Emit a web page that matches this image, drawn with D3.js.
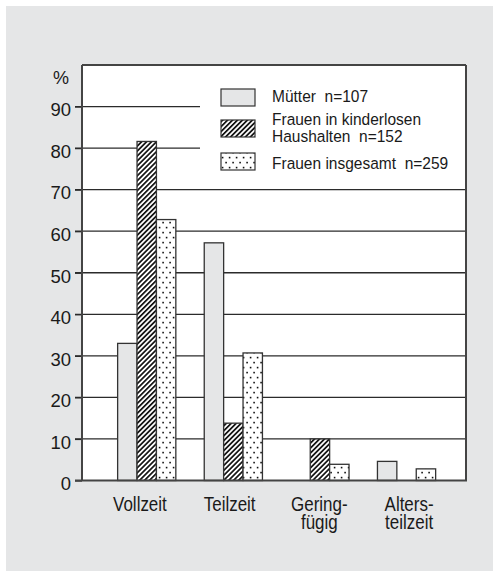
<!DOCTYPE html>
<html>
<head>
<meta charset="utf-8">
<script src="https://cdn.jsdelivr.net/npm/d3@7"></script>
<style>
  html, body { margin: 0; padding: 0; background: #ffffff; }
  svg { display: block; }
  text { white-space: pre; }
</style>
</head>
<body>
<svg id="chart" width="497" height="576"></svg>
<script>
// ---- data ----
const categories = ["Vollzeit", "Teilzeit", "Geringfügig", "Altersteilzeit"];
const categoryLabels = [["Vollzeit"], ["Teilzeit"], ["Gering-", "fügig"], ["Alters-", "teilzeit"]];
const seriesNames = ["Mütter", "Frauen in kinderlosen Haushalten", "Frauen insgesamt"];
const legendLabels = [["Mütter  n=107"], ["Frauen in kinderlosen", "Haushalten  n=152"], ["Frauen insgesamt  n=259"]];
const muetter = [33.0, 57.2, 0, 4.6];
const kinderlos = [81.6, 13.8, 10.0, 0];
const insgesamt = [62.8, 30.7, 3.9, 2.8];
const yTicks = [0, 10, 20, 30, 40, 50, 60, 70, 80, 90];
const yUnit = "%";

const seriesValues = [muetter, kinderlos, insgesamt];

// ---- layout ----
const svg = d3.select("#chart");
const plot = { left: 82, right: 466, top: 65, bottom: 480.5 };
const regular = "'Liberation Sans', Arial, Helvetica, sans-serif";
const ink = "#2b2b2b";

svg.append("rect").attr("x", 0).attr("y", 0).attr("width", 497).attr("height", 576).attr("fill", "#ffffff");
svg.append("rect").attr("x", 6).attr("y", 6).attr("width", 487).attr("height", 565).attr("fill", "#e5e6e7");

// patterns
const defs = svg.append("defs");
const hatch = defs.append("pattern").attr("id", "hatch")
  .attr("patternUnits", "userSpaceOnUse").attr("width", 3.5).attr("height", 10)
  .attr("patternTransform", "rotate(45)");
hatch.append("rect").attr("width", 3.5).attr("height", 10).attr("fill", "#ffffff");
hatch.append("rect").attr("x", 0).attr("width", 1.7).attr("height", 10).attr("fill", "#111");

const dots = defs.append("pattern").attr("id", "dots")
  .attr("patternUnits", "userSpaceOnUse").attr("width", 7).attr("height", 10);
dots.append("rect").attr("width", 7).attr("height", 10).attr("fill", "#ffffff");
dots.append("rect").attr("x", 1.3).attr("y", 1.8).attr("width", 1.6).attr("height", 1.6).attr("fill", "#111");
dots.append("rect").attr("x", 4.8).attr("y", 6.8).attr("width", 1.6).attr("height", 1.6).attr("fill", "#111");

const fills = ["#e5e6e7", "url(#hatch)", "url(#dots)"];

// plot background
svg.append("rect").attr("x", plot.left).attr("y", plot.top)
  .attr("width", plot.right - plot.left).attr("height", plot.bottom - plot.top)
  .attr("fill", "#ffffff");

// scales
const y = d3.scaleLinear().domain([0, 100]).range([plot.bottom, plot.top]);
const x0 = d3.scaleBand().domain(categories).range([plot.left, plot.right])
  .paddingInner(0.328).paddingOuter(0.381).align(0.54);
const x1 = d3.scaleBand().domain(seriesNames).range([0, x0.bandwidth()]).padding(0);
const xLabel = d3.scalePoint().domain(categories).range([plot.left, plot.right]).padding(0.64);

// gridlines
svg.append("g").selectAll("line").data(yTicks.filter(d => d > 0)).join("line")
  .attr("x1", plot.left - 7).attr("x2", plot.right)
  .attr("y1", d => y(d)).attr("y2", d => y(d))
  .attr("stroke", ink).attr("stroke-width", 1.3);

// legend area (white, hides gridlines behind)
svg.append("rect").attr("x", 200).attr("y", plot.top).attr("width", plot.right - 200).attr("height", 115)
  .attr("fill", "#ffffff");

// bars
const barData = [];
categories.forEach((c, i) => {
  seriesNames.forEach((s, j) => {
    const v = seriesValues[j][i];
    if (v > 0) barData.push({ c, s, v, j });
  });
});
svg.append("g").selectAll("rect").data(barData).join("rect")
  .attr("x", d => x0(d.c) + x1(d.s))
  .attr("y", d => y(d.v))
  .attr("width", x1.bandwidth())
  .attr("height", d => y(0) - y(d.v))
  .attr("fill", d => fills[d.j])
  .attr("stroke", "#333").attr("stroke-width", 1.3);

// y axis
const yAxis = d3.axisLeft(y).tickValues(yTicks).tickSize(7).tickPadding(4).tickFormat(d3.format("d"));
const gy = svg.append("g").attr("transform", `translate(${plot.left},0)`).call(yAxis);
gy.select(".domain").remove();
gy.selectAll(".tick line").attr("stroke", ink).attr("stroke-width", 1.3);
gy.selectAll(".tick text").attr("font-family", regular).attr("font-size", 18.5).attr("fill", "#1a1a1a")
  .attr("dy", "0.5em");

svg.append("text").attr("x", 69).attr("y", 84).attr("text-anchor", "end")
  .attr("font-family", regular).attr("font-size", 18).attr("fill", "#1a1a1a").text(yUnit);

// frame
svg.append("line").attr("x1", plot.left).attr("x2", plot.right).attr("y1", plot.top).attr("y2", plot.top)
  .attr("stroke", "#444").attr("stroke-width", 2);
svg.append("line").attr("x1", plot.right).attr("x2", plot.right).attr("y1", plot.top).attr("y2", plot.bottom)
  .attr("stroke", "#444").attr("stroke-width", 2);
svg.append("line").attr("x1", plot.left).attr("x2", plot.left).attr("y1", plot.top).attr("y2", plot.bottom)
  .attr("stroke", "#444").attr("stroke-width", 2);

// x axis (labels)
const xAxis = d3.axisBottom(xLabel).tickSize(0).tickFormat("");
const gx = svg.append("g").attr("transform", `translate(0,${plot.bottom})`).call(xAxis);
gx.select(".domain").attr("stroke", "#444").attr("stroke-width", 2)
  .attr("d", `M${plot.left - 7},0H${plot.right + 1}`);
gx.selectAll(".tick").each(function(d, i) {
  const t = d3.select(this).append("text")
    .attr("transform", "scale(0.87,1)")
    .attr("font-family", regular).attr("font-size", 19.5).attr("fill", "#1a1a1a")
    .attr("text-anchor", "middle");
  categoryLabels[i].forEach((line, k) => {
    t.append("tspan").attr("x", 0).attr("y", 31 + k * 17.5).text(line);
  });
});

// legend
const legendRows = [89, 120, 153];
const lg = svg.append("g");
legendRows.forEach((ry, j) => {
  lg.append("rect").attr("x", 221).attr("y", ry).attr("width", 34).attr("height", 17)
    .attr("fill", fills[j]).attr("stroke", "#333").attr("stroke-width", 1.2);
});
const legendBaselines = [[102], [125.3, 142.3], [168.7]];
legendLabels.forEach((lines, j) => {
  const t = lg.append("text")
    .attr("transform", "translate(272,0) scale(0.94,1)")
    .attr("font-family", regular).attr("font-size", 16.5).attr("fill", "#1a1a1a");
  lines.forEach((line, k) => {
    t.append("tspan").attr("x", 0).attr("y", legendBaselines[j][k]).text(line);
  });
});
</script>
</body>
</html>
